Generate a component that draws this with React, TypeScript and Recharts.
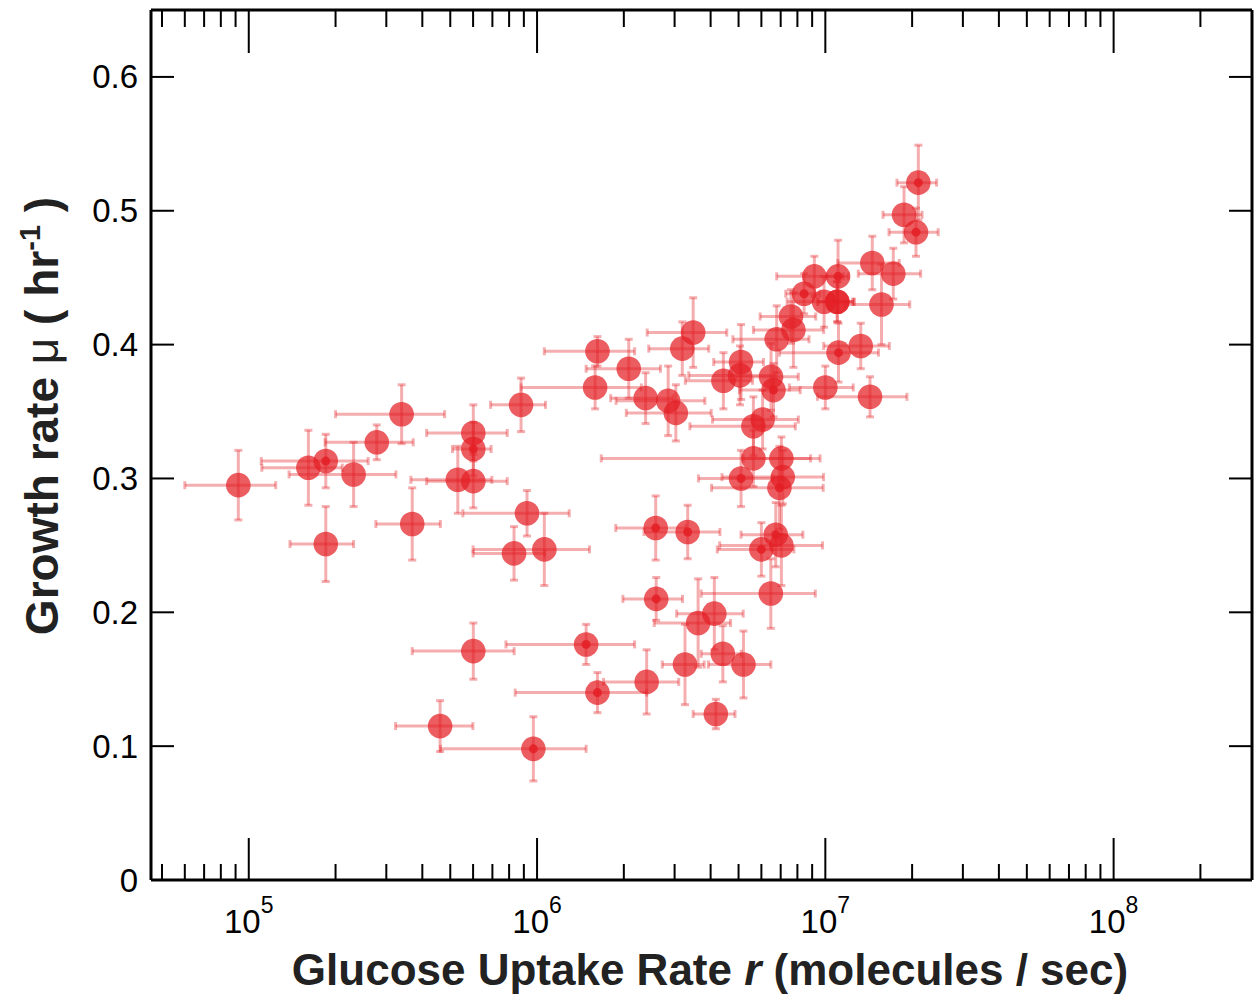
import { ScatterChart, Scatter, XAxis, YAxis, ErrorBar } from "recharts";

// glucose uptake rate (molecules / sec) and its +/- error
const uptakeRate = [
  9.2e4, 1.61e5, 1.85e5, 2.31e5, 2.78e5, 3.39e5, 1.85e5, 3.69e5, 4.61e5, 5.31e5,
  6.01e5, 6.01e5, 6.01e5, 6.01e5, 8.32e5, 8.8e5, 9.23e5, 9.71e5, 1.06e6, 1.48e6,
  1.59e6, 1.62e6, 1.62e6, 2.08e6, 2.38e6, 2.4e6, 2.58e6, 2.59e6, 2.85e6, 3.03e6,
  3.19e6, 3.33e6, 3.26e6, 3.48e6, 3.62e6, 4.12e6, 4.17e6, 4.41e6, 4.43e6, 5.06e6,
  5.1e6, 5.1e6, 5.2e6, 5.63e6, 5.63e6, 6.06e6, 6.0e6, 6.48e6, 6.61e6, 6.47e6,
  6.78e6, 6.73e6, 7.04e6, 7.12e6, 6.93e6, 7.04e6, 7.75e6, 7.6e6, 8.44e6, 9.16e6,
  1.0e7, 9.9e6, 1.1e7, 1.1e7, 1.107e7, 1.111e7, 1.327e7, 1.429e7, 1.455e7, 1.566e7,
  1.721e7, 1.875e7, 2.063e7, 2.102e7,
];
const uptakeErr = [
  3.2e4, 5.0e4, 7.45e4, 9.3e4, 9.4e4, 1.39e5, 4.6e4, 9.3e4, 1.38e5, 1.66e5,
  1.87e5, 9.2e4, 1.87e5, 2.32e5, 2.32e5, 1.9e5, 3.7e5, 5.09e5, 4.6e5, 7.0e5,
  7.1e5, 5.6e5, 7.8e5, 6.0e5, 5.8e5, 7.0e5, 7.05e5, 6.05e5, 9.7e5, 9.9e5,
  7.5e5, 9.8e5, 5.4e5, 1.07e6, 1.07e6, 1.07e6, 6.9e5, 7.0e5, 1.16e6, 1.7e6,
  1.0e6, 1.47e6, 1.27e6, 2.24e6, 3.96e6, 2.0e6, 1.78e6, 1.58e6, 1.57e6, 2.76e6,
  2.0e6, 1.63e6, 1.85e6, 2.74e6, 2.9e6, 2.74e6, 2.12e6, 1.66e6, 1.15e6, 2.38e6,
  2.5e6, 2.53e6, 1.58e6, 1.58e6, 9.5e5, 4.18e6, 3.4e6, 4.9e6, 3.5e6, 3.96e6,
  4.2e6, 2.9e6, 4.0e6, 3.3e6,
];

// growth rate (1/hr) and its +/- error
const growthRate = [
  0.295, 0.308, 0.313, 0.303, 0.327, 0.348, 0.251, 0.266, 0.115, 0.299,
  0.334, 0.322, 0.298, 0.171, 0.244, 0.355, 0.274, 0.098, 0.247, 0.176,
  0.368, 0.395, 0.14, 0.382, 0.36, 0.148, 0.263, 0.21, 0.358, 0.349,
  0.397, 0.26, 0.161, 0.409, 0.192, 0.199, 0.124, 0.169, 0.373, 0.377,
  0.387, 0.3, 0.161, 0.339, 0.315, 0.344, 0.247, 0.376, 0.366, 0.214,
  0.404, 0.258, 0.315, 0.301, 0.293, 0.25, 0.411, 0.421, 0.438, 0.451,
  0.368, 0.432, 0.432, 0.432, 0.451, 0.394, 0.399, 0.361, 0.461, 0.43,
  0.453, 0.497, 0.484, 0.521,
];
const growthErr = [
  0.026, 0.028, 0.02, 0.024, 0.013, 0.022, 0.028, 0.027, 0.019, 0.025,
  0.021, 0.02, 0.02, 0.021, 0.02, 0.02, 0.017, 0.024, 0.027, 0.015,
  0.016, 0.011, 0.015, 0.022, 0.019, 0.024, 0.024, 0.016, 0.026, 0.021,
  0.02, 0.02, 0.03, 0.026, 0.033, 0.027, 0.011, 0.021, 0.021, 0.022,
  0.028, 0.021, 0.025, 0.022, 0.021, 0.022, 0.02, 0.025, 0.02, 0.026,
  0.025, 0.024, 0.016, 0.02, 0.031, 0.03, 0.028, 0.02, 0.015, 0.015,
  0.016, 0.019, 0.015, 0.015, 0.027, 0.022, 0.017, 0.015, 0.02, 0.03,
  0.019, 0.021, 0.018, 0.028,
];
// points drawn with a small solid dot in the middle
const centerDot = [
  0, 0, 1, 0, 0, 0, 0, 0, 0, 0,
  0, 1, 0, 0, 0, 0, 0, 1, 0, 1,
  0, 0, 1, 0, 0, 0, 1, 1, 0, 0,
  0, 1, 0, 0, 0, 0, 0, 0, 0, 0,
  0, 1, 0, 0, 0, 0, 1, 0, 1, 0,
  0, 1, 0, 0, 1, 0, 0, 0, 1, 0,
  0, 0, 0, 0, 1, 1, 0, 0, 0, 0,
  0, 0, 1, 1,
];

const xTicks = [
  5e4, 6e4, 7e4, 8e4, 9e4,
  1e5, 2e5, 3e5, 4e5, 5e5, 6e5, 7e5, 8e5, 9e5,
  1e6, 2e6, 3e6, 4e6, 5e6, 6e6, 7e6, 8e6, 9e6,
  1e7, 2e7, 3e7, 4e7, 5e7, 6e7, 7e7, 8e7, 9e7,
  1e8, 2e8,
];
const yTicks = [0, 0.1, 0.2, 0.3, 0.4, 0.5, 0.6];

const points = uptakeRate.map((x, i) => ({
  x,
  xErr: uptakeErr[i],
  y: growthRate[i],
  yErr: growthErr[i],
  dot: centerDot[i],
}));
const dottedPoints = points.filter((p) => p.dot === 1);

const RED = "#e31e24";
const FONT = "'Liberation Sans', Arial, Helvetica, sans-serif";

const decade = (v: number) => {
  const e = Math.round(Math.log10(v));
  return Math.abs(Math.log10(v) - e) < 1e-6 ? e : null;
};

const BottomTick = ({ x, y, payload }: any) => {
  const e = decade(payload.value);
  return (
    <g>
      <line x1={x} x2={x} y1={y} y2={y - (e !== null ? 42 : 16)} stroke="#000" strokeWidth={2} />
      {e !== null && (
        <text x={x} y={y + 53} textAnchor="middle" fontFamily={FONT} fontSize={33} fill="#000">
          10
          <tspan dy={-20} fontSize={23}>{e}</tspan>
        </text>
      )}
    </g>
  );
};

const TopTick = ({ x, y, payload }: any) => {
  const e = decade(payload.value);
  return <line x1={x} x2={x} y1={y} y2={y + (e !== null ? 43 : 17)} stroke="#000" strokeWidth={2} />;
};

const LeftTick = ({ x, y, payload }: any) => (
  <g>
    <line x1={x} x2={x + 23} y1={y} y2={y} stroke="#000" strokeWidth={2} />
    <text x={x - 13} y={y + 11.5} textAnchor="end" fontFamily={FONT} fontSize={33} fill="#000">
      {payload.value === 0 ? "0" : payload.value.toFixed(1)}
    </text>
  </g>
);

const RightTick = ({ x, y }: any) => (
  <line x1={x} x2={x - 23} y1={y} y2={y} stroke="#000" strokeWidth={2} />
);

const XTitle = () => (
  <text x={710} y={985} textAnchor="middle" fontFamily={FONT} fontSize={44} fontWeight="bold" fill="#222">
    Glucose Uptake Rate{" "}
    <tspan fontStyle="italic">r</tspan>
    {" (molecules / sec)"}
  </text>
);

const YTitle = () => (
  <text
    transform="translate(58,416) rotate(-90)"
    textAnchor="middle"
    fontFamily={FONT}
    fontSize={46}
    fontWeight="bold"
    fill="#222"
  >
    {"Growth rate "}
    <tspan fontWeight="normal">μ</tspan>
    {" ( hr"}
    <tspan dy={-18} fontSize={29}>-1</tspan>
    <tspan dy={18}>{" )"}</tspan>
  </text>
);

const Bubble = ({ cx, cy }: any) => (
  <circle cx={cx} cy={cy} r={12.3} fill={RED} fillOpacity={0.72} />
);
const CenterDot = ({ cx, cy }: any) => <circle cx={cx} cy={cy} r={4.5} fill={RED} fillOpacity={0.85} />;

const axisLine = { stroke: "#000", strokeWidth: 3 };

export default function App() {
  return (
    <div style={{ position: "fixed", left: 0, top: 0, background: "#fff" }}>
      <ScatterChart width={1254} height={996} margin={{ top: 0, right: 0, bottom: 0, left: 0 }}>
        <XAxis
          xAxisId="bottom"
          dataKey="x"
          type="number"
          scale="log"
          domain={[45800, 3.02e8]}
          allowDataOverflow
          ticks={xTicks}
          interval={0}
          height={116}
          tickLine={false}
          tickSize={0}
          tickMargin={0}
          axisLine={axisLine}
          tick={(p: any) => <BottomTick {...p} />}
          label={<XTitle />}
        />
        <XAxis
          xAxisId="top"
          orientation="top"
          dataKey="x"
          type="number"
          scale="log"
          domain={[45800, 3.02e8]}
          allowDataOverflow
          ticks={xTicks}
          interval={0}
          height={10}
          tickLine={false}
          tickSize={0}
          tickMargin={0}
          axisLine={axisLine}
          tick={(p: any) => <TopTick {...p} />}
        />
        <YAxis
          yAxisId="left"
          dataKey="y"
          type="number"
          domain={[0, 0.65]}
          allowDataOverflow
          ticks={yTicks}
          interval={0}
          width={151}
          tickLine={false}
          tickSize={0}
          tickMargin={0}
          axisLine={axisLine}
          tick={(p: any) => <LeftTick {...p} />}
          label={<YTitle />}
        />
        <YAxis
          yAxisId="right"
          orientation="right"
          dataKey="y"
          type="number"
          domain={[0, 0.65]}
          allowDataOverflow
          ticks={yTicks}
          interval={0}
          width={2}
          tickLine={false}
          tickSize={0}
          tickMargin={0}
          axisLine={axisLine}
          tick={(p: any) => <RightTick {...p} />}
        />
        <Scatter
          data={points}
          xAxisId="bottom"
          yAxisId="left"
          shape={(p: any) => <Bubble {...p} />}
          isAnimationActive={false}
        >
          <ErrorBar dataKey="xErr" direction="x" width={4} strokeWidth={3} stroke="rgba(227,30,36,0.36)" />
          <ErrorBar dataKey="yErr" direction="y" width={4} strokeWidth={3} stroke="rgba(227,30,36,0.36)" />
        </Scatter>
        <Scatter
          data={dottedPoints}
          xAxisId="bottom"
          yAxisId="left"
          shape={(p: any) => <CenterDot {...p} />}
          isAnimationActive={false}
        />
      </ScatterChart>
    </div>
  );
}
